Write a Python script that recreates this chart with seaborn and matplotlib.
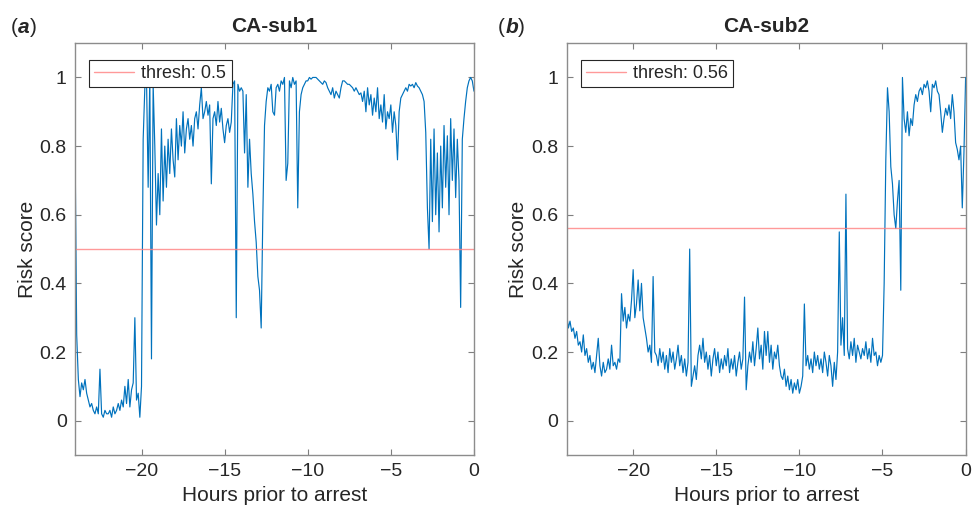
import numpy as np
import pandas as pd
import matplotlib
matplotlib.use("Agg")
import matplotlib.pyplot as plt
import seaborn as sns

# time axis, one sample every 0.1 h from -24 h to 0 h
hours = np.round(np.arange(-240, 1) / 10, 1)

# CA-sub1 risk score (rows = one hour each)
risk_sub1 = [
    0.82, 0.25, 0.12, 0.07, 0.11, 0.09, 0.12, 0.08, 0.06, 0.04,
    0.05, 0.03, 0.02, 0.04, 0.02, 0.15, 0.02, 0.01, 0.03, 0.02,
    0.02, 0.03, 0.01, 0.04, 0.02, 0.03, 0.05, 0.03, 0.06, 0.04,
    0.10, 0.05, 0.12, 0.04, 0.09, 0.11, 0.30, 0.06, 0.08, 0.01,
    0.10, 0.82, 0.97, 1.00, 0.68, 1.00, 0.18, 0.98, 0.80, 0.57,
    0.72, 0.60, 0.85, 0.64, 0.80, 0.68, 0.82, 0.72, 0.85, 0.76,
    0.71, 0.88, 0.76, 0.86, 0.80, 0.90, 0.78, 0.85, 0.88, 0.82,
    0.86, 0.80, 0.88, 0.90, 0.85, 0.92, 0.97, 0.88, 0.90, 0.93,
    0.89, 0.92, 0.69, 0.88, 0.90, 0.86, 0.93, 0.87, 0.91, 0.85,
    0.81, 0.86, 0.88, 0.84, 0.87, 0.98, 0.99, 0.30, 0.98, 0.96,
    0.97, 0.96, 0.78, 0.95, 0.68, 0.82, 0.72, 0.66, 0.58, 0.52,
    0.42, 0.38, 0.27, 0.60, 0.86, 0.93, 0.97, 0.96, 0.98, 0.90,
    0.89, 0.97, 0.98, 0.96, 0.99, 0.98, 1.00, 0.70, 0.75, 0.99,
    0.97, 1.00, 0.98, 0.99, 0.62, 0.90, 0.95, 0.97, 0.98, 0.99,
    0.99, 1.00, 0.995, 1.00, 1.00, 1.00, 0.995, 0.99, 0.985, 0.98,
    0.99, 0.985, 0.97, 0.96, 0.95, 0.97, 0.94, 0.96, 0.95, 0.94,
    0.97, 0.99, 0.99, 0.985, 0.98, 0.98, 0.975, 0.97, 0.96, 0.97,
    0.96, 0.95, 0.955, 0.93, 0.96, 0.90, 0.97, 0.92, 0.95, 0.89,
    0.94, 0.90, 0.97, 0.88, 0.92, 0.87, 0.95, 0.85, 0.90, 0.88,
    0.92, 0.84, 0.90, 0.86, 0.76, 0.90, 0.94, 0.95, 0.96, 0.97,
    0.96, 0.98, 0.975, 0.98, 0.97, 0.985, 0.975, 0.97, 0.96, 0.95,
    0.93, 0.84, 0.62, 0.50, 0.82, 0.58, 0.85, 0.60, 0.78, 0.55,
    0.80, 0.62, 0.86, 0.68, 0.83, 0.60, 0.88, 0.70, 0.85, 0.65,
    0.82, 0.70, 0.33, 0.82, 0.88, 0.93, 0.97, 0.99, 1.00, 0.99,
    0.96,
]

# CA-sub2 risk score
risk_sub2 = [
    0.31, 0.27, 0.29, 0.26, 0.27, 0.24, 0.26, 0.22, 0.23, 0.20,
    0.25, 0.19, 0.21, 0.17, 0.19, 0.15, 0.17, 0.14, 0.19, 0.24,
    0.16, 0.13, 0.17, 0.14, 0.15, 0.18, 0.15, 0.22, 0.16, 0.17,
    0.15, 0.18, 0.17, 0.37, 0.29, 0.33, 0.27, 0.31, 0.29, 0.35,
    0.44, 0.30, 0.34, 0.41, 0.32, 0.40, 0.30, 0.27, 0.24, 0.20,
    0.22, 0.17, 0.42, 0.20, 0.19, 0.16, 0.21, 0.17, 0.20, 0.15,
    0.19, 0.14, 0.21, 0.17, 0.20, 0.15, 0.18, 0.22, 0.16, 0.19,
    0.14, 0.18, 0.13, 0.17, 0.50, 0.10, 0.13, 0.16, 0.12, 0.19,
    0.22, 0.18, 0.24, 0.17, 0.20, 0.15, 0.19, 0.13, 0.18, 0.21,
    0.16, 0.20, 0.14, 0.18, 0.15, 0.19, 0.16, 0.21, 0.14, 0.18,
    0.15, 0.19, 0.13, 0.17, 0.20, 0.15, 0.18, 0.36, 0.09, 0.16,
    0.20, 0.17, 0.23, 0.16, 0.21, 0.27, 0.18, 0.22, 0.15, 0.26,
    0.19, 0.26, 0.17, 0.22, 0.15, 0.20, 0.18, 0.22, 0.16, 0.13,
    0.12, 0.15, 0.10, 0.13, 0.09, 0.12, 0.08, 0.11, 0.09, 0.12,
    0.08, 0.10, 0.13, 0.34, 0.16, 0.19, 0.15, 0.18, 0.14, 0.20,
    0.16, 0.19, 0.15, 0.18, 0.14, 0.20, 0.17, 0.13, 0.19, 0.16,
    0.10, 0.17, 0.12, 0.20, 0.55, 0.22, 0.30, 0.19, 0.66, 0.21,
    0.18, 0.23, 0.19, 0.24, 0.17, 0.22, 0.20, 0.18, 0.21, 0.19,
    0.23, 0.18, 0.21, 0.17, 0.24, 0.19, 0.20, 0.16, 0.19, 0.17,
    0.19, 0.40, 0.76, 0.97, 0.90, 0.74, 0.69, 0.60, 0.56, 0.64,
    0.70, 0.38, 1.00, 0.88, 0.84, 0.90, 0.83, 0.88, 0.86, 0.92,
    0.95, 0.93, 0.96, 0.97, 0.95, 0.98, 0.97, 0.99, 0.96, 0.90,
    0.98, 0.97, 0.99, 0.96, 0.95, 0.90, 0.84, 0.88, 0.91, 0.89,
    0.92, 0.88, 0.95, 0.90, 0.81, 0.79, 0.76, 0.80, 0.62, 0.78,
    1.00,
]

titles = ["CA-sub1", "CA-sub2"]
panel_tags = ["a", "b"]
thresholds = [0.5, 0.56]

df = pd.DataFrame({"hours": hours, "CA-sub1": risk_sub1, "CA-sub2": risk_sub2})

sns.set_style("white")
plt.rcParams["font.family"] = ["Liberation Sans", "DejaVu Sans"]

fig = plt.figure(figsize=(9.73, 5.11), dpi=100)
axes = [fig.add_axes([0.0771, 0.1096, 0.41, 0.806]),
        fig.add_axes([0.5824, 0.1096, 0.41, 0.806])]

for ax, name, tag, thr in zip(axes, titles, panel_tags, thresholds):
    sns.lineplot(data=df, x="hours", y=name, ax=ax, color="#0072BD",
                 linewidth=0.85, estimator=None)
    ax.axhline(thr, color="#ff8080", lw=1.0, alpha=0.8, label=f"thresh: {thr:g}")
    ax.set_xlim(-24, 0)
    ax.set_ylim(-0.1, 1.1)
    ax.set_xticks([-20, -15, -10, -5, 0])
    ax.set_yticks([0, 0.2, 0.4, 0.6, 0.8, 1])
    ax.set_yticklabels(["0", "0.2", "0.4", "0.6", "0.8", "1"])
    ax.tick_params(direction="in", length=4, width=0.8, color="#7f7f7f",
                   labelsize=14, labelcolor="#262626", top=True, right=True,
                   bottom=True, left=True, pad=6)
    for sp in ax.spines.values():
        sp.set_color("#8c8c8c")
        sp.set_linewidth(1.0)
    ax.set_xlabel("Hours prior to arrest", fontsize=15, color="#262626", labelpad=4)
    ax.set_ylabel("Risk score", fontsize=15, color="#262626", labelpad=2)
    ax.set_title(name, fontsize=15, fontweight="bold", pad=8)
    leg = ax.legend(loc="upper left", bbox_to_anchor=(0.035, 0.96), fontsize=13,
                    frameon=True, fancybox=False, framealpha=1, borderpad=0.3,
                    handlelength=2.2, handletextpad=0.4, borderaxespad=0)
    leg.get_frame().set_edgecolor("#262626")
    leg.get_frame().set_linewidth(0.8)

fig.text(0.011, 0.947, "(", fontsize=15, ha="left", va="center")
fig.text(0.0185, 0.947, "a", fontsize=15, fontstyle="italic", fontweight="bold",
         ha="left", va="center")
fig.text(0.0305, 0.947, ")", fontsize=15, ha="left", va="center")
fig.text(0.512, 0.947, "(", fontsize=15, ha="left", va="center")
fig.text(0.5195, 0.947, "b", fontsize=15, fontstyle="italic", fontweight="bold",
         ha="left", va="center")
fig.text(0.5325, 0.947, ")", fontsize=15, ha="left", va="center")

fig.savefig("out.png", dpi=100)
